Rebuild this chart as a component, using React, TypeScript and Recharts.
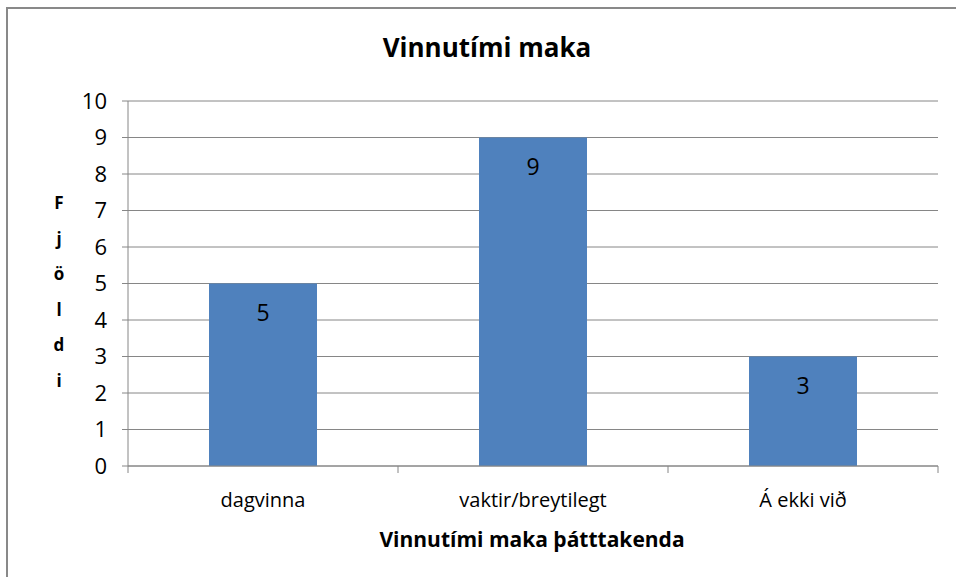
import { BarChart, Bar, XAxis, YAxis, CartesianGrid, LabelList } from "recharts";

const categories = ["dagvinna", "vaktir/breytilegt", "Á ekki við"];
const counts = [5, 9, 3];
const yTicks = [0, 1, 2, 3, 4, 5, 6, 7, 8, 9, 10];
const chartTitle = "Vinnutími maka";
const xTitle = "Vinnutími maka þátttakenda";
const yTitle = "Fjöldi";

const W = 956;
const H = 577;
const MARGIN = { top: 101, right: 18, bottom: 0, left: 0 };
const Y_WIDTH = 128;
const FONT = "'Open Sans', Lato, sans-serif";
const GRAY = "#868686";

const data = categories.map((name, i) => ({ name, value: counts[i] }));
const bandWidth = (W - MARGIN.left - MARGIN.right - Y_WIDTH) / categories.length;

function XTick(props: any) {
  const { x, y, payload, index } = props;
  return (
    <g>
      {index === 0 && <line x1={x - bandWidth / 2} x2={x - bandWidth / 2} y1={y - 7} y2={y} stroke={GRAY} />}
      <line x1={x + bandWidth / 2} x2={x + bandWidth / 2} y1={y - 7} y2={y} stroke={GRAY} />
      <text x={x} y={y + 34} textAnchor="middle" fontSize={20} fontFamily={FONT} fill="#000">
        {payload.value}
      </text>
    </g>
  );
}

export default function App() {
  return (
    <div style={{ position: "absolute", left: 0, top: 0, width: W, height: H, overflow: "hidden", background: "#fff" }}>
      <div style={{ position: "absolute", left: 6, top: 7, width: 1000, height: 700, border: "2px solid #898989" }} />
      <BarChart width={W} height={H} data={data} margin={MARGIN} barCategoryGap="30%">
        <CartesianGrid vertical={false} stroke={GRAY} />
        <XAxis
          dataKey="name"
          height={H - 466}
          stroke={GRAY}
          tickLine={false}
          tickSize={7}
          tickMargin={0}
          tick={<XTick />}
          interval={0}
        />
        <YAxis
          width={Y_WIDTH}
          domain={[0, 10]}
          ticks={yTicks}
          interval={0}
          stroke={GRAY}
          tickSize={6}
          tickMargin={15}
          tick={{ fill: "#000", fontSize: 22, fontFamily: FONT }}
        />
        <Bar dataKey="value" fill="#4F81BD" isAnimationActive={false}>
          <LabelList dataKey="value" position="insideTop" offset={21} fill="#000" fontSize={23} fontFamily={FONT} />
        </Bar>
      </BarChart>
      <svg width={W} height={H} style={{ position: "absolute", left: 0, top: 0, pointerEvents: "none" }}>
        <text x={487} y={57} textAnchor="middle" fontSize={26} fontWeight="bold" fontFamily={FONT} fill="#000">
          {chartTitle}
        </text>
        <text x={532} y={547} textAnchor="middle" fontSize={21} fontWeight="bold" fontFamily={FONT} fill="#000">
          {xTitle}
        </text>
        <text textAnchor="middle" fontSize={17} fontWeight="bold" fontFamily={FONT} fill="#000">
          {yTitle.split("").map((ch, i) => (
            <tspan key={i} x={59} y={209 + i * 35.5}>
              {ch}
            </tspan>
          ))}
        </text>
      </svg>
    </div>
  );
}
